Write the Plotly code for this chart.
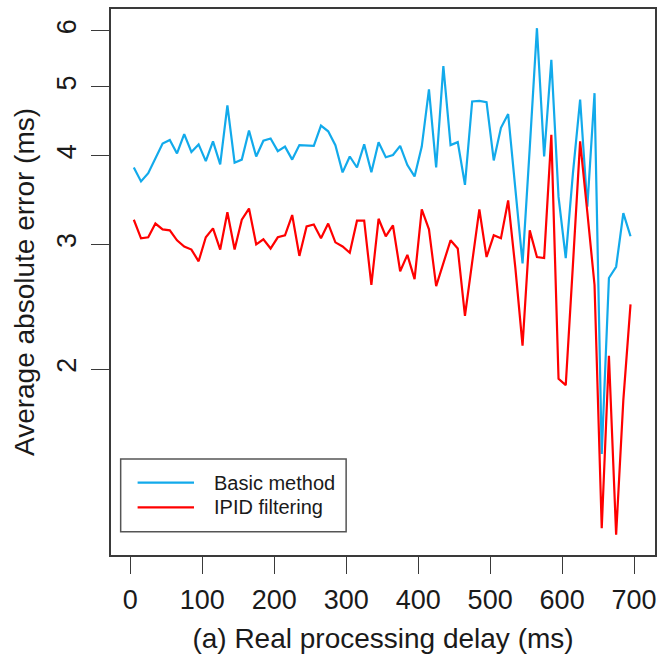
import plotly.graph_objects as go

delay_ms = list(range(5, 700, 10))

basic_method = [
    3.85, 3.68, 3.78, 3.97, 4.16, 4.21, 4.03, 4.29, 4.05, 4.15,
    3.93, 4.19, 3.89, 4.71, 3.91, 3.95, 4.34, 3.99, 4.20, 4.23,
    4.06, 4.12, 3.95, 4.14, 4.13, 4.13, 4.41, 4.33, 4.14, 3.79,
    3.99, 3.85, 4.15, 3.79, 4.18, 3.98, 4.01, 4.13, 3.88, 3.74,
    4.12, 4.96, 3.85, 5.35, 4.14, 4.18, 3.64, 4.77, 4.78, 4.76,
    3.94, 4.38, 4.58, 3.60, 2.82, 4.10, 6.05, 3.99, 5.46, 3.50,
    2.87, 3.78, 4.80, 3.39, 4.90, 1.52, 2.69, 2.79, 3.32, 3.08,
]

ipid_filtering = [
    3.25, 3.06, 3.07, 3.21, 3.15, 3.14, 3.04, 2.98, 2.95, 2.84,
    3.07, 3.16, 2.95, 3.33, 2.95, 3.25, 3.37, 3.00, 3.05, 2.96,
    3.07, 3.09, 3.30, 2.89, 3.18, 3.20, 3.06, 3.21, 3.02, 2.98,
    2.92, 3.24, 3.24, 2.63, 3.26, 3.08, 3.19, 2.75, 2.90, 2.68,
    3.36, 3.15, 2.62, 2.82, 3.04, 2.96, 2.38, 2.83, 3.36, 2.88,
    3.09, 3.06, 3.46, 2.78, 2.16, 3.14, 2.88, 2.87, 4.28, 1.94,
    1.90, 2.81, 4.19, 3.33, 2.63, 1.195, 2.09, 1.17, 1.81, 2.47,
]

series_names = ["Basic method", "IPID filtering"]
series_colors = ["#12aaeb", "#ff0000"]

x_ticks = [0, 100, 200, 300, 400, 500, 600, 700]
y_ticks = [2, 3, 4, 5, 6]

FONT = "Liberation Sans, Arial, sans-serif"
INK = "#1a1a1a"
FRAME = "#3a3a3a"

fig = go.Figure()
for name, vals, col in zip(series_names, [basic_method, ipid_filtering], series_colors):
    fig.add_trace(go.Scatter(
        x=delay_ms, y=vals, mode="lines", name=name,
        line=dict(color=col, width=2.2),
        showlegend=False,
    ))

# legend drawn in R style
L, R_, B, T = 111, 657, 555, 9
W, H = R_ - L, B - T
def px(xp):
    return (xp - L) / W
def py(yp):
    return (B - yp) / H

shapes = [
    dict(type="rect", xref="paper", yref="paper",
         x0=px(120.7), x1=px(347), y0=py(531.7), y1=py(459),
         line=dict(color="#555555", width=1.5), fillcolor="white"),
]
annotations = []
for i, (name, col) in enumerate(zip(series_names, series_colors)):
    yy = [482.7, 507.3][i]
    shapes.append(dict(type="line", xref="paper", yref="paper",
                       x0=px(137.7), x1=px(194.3), y0=py(yy), y1=py(yy),
                       line=dict(color=col, width=2.2)))
    annotations.append(dict(xref="paper", yref="paper", x=px(212), y=py(yy),
                            text=name, showarrow=False, xanchor="left", yanchor="middle",
                            font=dict(family=FONT, size=20, color=INK)))

fig.update_layout(
    width=663, height=657,
    margin=dict(l=L, r=663 - R_, t=T, b=657 - B),
    paper_bgcolor="white", plot_bgcolor="white",
    font=dict(family=FONT, color=INK),
    shapes=shapes, annotations=annotations,
    showlegend=False,
)
fig.update_xaxes(
    range=[-26.7, 729], tickvals=x_ticks, ticktext=[str(v) for v in x_ticks],
    ticks="outside", ticklen=17, tickwidth=1.3, tickcolor=FRAME,
    ticklabelstandoff=3,
    showline=True, mirror=True, linecolor=FRAME, linewidth=1.5,
    showgrid=False, zeroline=False,
    tickfont=dict(family=FONT, size=27, color=INK),
    title=dict(text="(a) Real processing delay (ms)", font=dict(family=FONT, size=28, color=INK), standoff=14),
)
fig.update_yaxes(
    type="log", range=[0.0395, 0.8088], tickvals=y_ticks, ticktext=[str(v) for v in y_ticks],
    tickangle=-90,
    ticks="outside", ticklen=18, tickwidth=1.3, tickcolor=FRAME,
    ticklabelstandoff=4,
    showline=True, mirror=True, linecolor=FRAME, linewidth=1.5,
    showgrid=False, zeroline=False,
    tickfont=dict(family=FONT, size=27, color=INK),
    title=dict(text="Average absolute error (ms)", font=dict(family=FONT, size=28, color=INK), standoff=10),
)

fig.write_html("out.html")
